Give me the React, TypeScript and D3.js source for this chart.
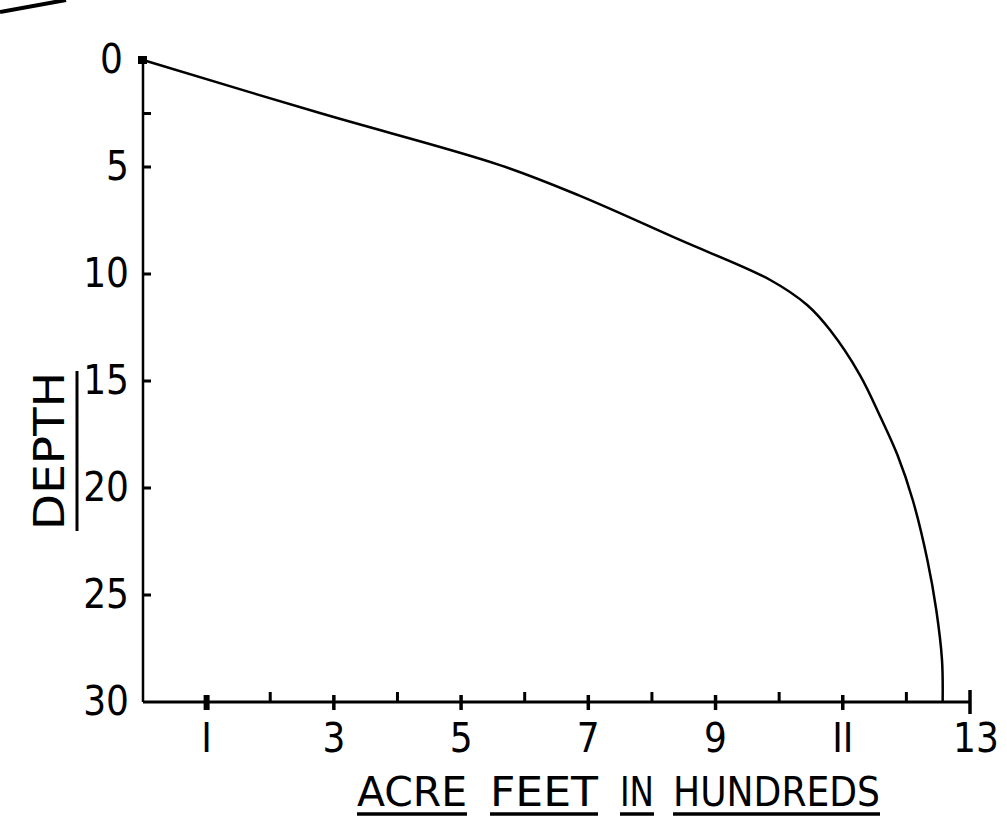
import React, { useEffect, useRef } from 'react';
import * as d3 from 'd3';

// curve: acre feet (hundreds) vs depth
const acreFeet = [0, 2.78, 5.61, 6.87, 8.44, 9.86, 10.44, 10.8, 11.27, 11.6, 11.86, 12.1, 12.33, 12.47, 12.56, 12.57];
const depth = [0, 2.48, 4.91, 6.35, 8.41, 10.28, 11.45, 12.62, 14.72, 16.73, 18.46, 20.56, 23.36, 25.7, 28.04, 30];

const xLabelTicks = [1, 3, 5, 7, 9, 11, 13];
const xMinorTicks = [2, 4, 6, 8, 10, 12];
const yLabelTicks = [0, 5, 10, 15, 20, 25, 30];
const yMinorTicks = [2.5];
const xTitleWords = ['ACRE', 'FEET', 'IN', 'HUNDREDS'];
const yTitle = 'DEPTH';

const FONT = "'Liberation Sans Narrow', 'DejaVu Sans Condensed', 'Liberation Sans', sans-serif";

const App = () => {
  const svgRef = useRef<SVGSVGElement>(null);

  useEffect(() => {
    const width = 1007;
    const height = 821;

    d3.select(svgRef.current).selectAll('*').remove();

    const svg = d3.select(svgRef.current)
      .attr('width', width)
      .attr('height', height)
      .style('background', '#fff');

    const x = d3.scaleLinear().domain([0, 13]).range([143, 970]);
    const y = d3.scaleLinear().domain([0, 30]).range([60, 702]);

    // stray pen stroke in the top-left corner of the scan
    svg.append('path')
      .attr('d', 'M0,12 L66,0')
      .attr('stroke', '#000')
      .attr('stroke-width', 4);

    // y axis
    svg.append('line')
      .attr('x1', x(0)).attr('x2', x(0))
      .attr('y1', y(0) - 2).attr('y2', y(30))
      .attr('stroke', '#000')
      .attr('stroke-width', 2.5);

    svg.append('rect')
      .attr('x', x(0) - 5).attr('y', y(0) - 4)
      .attr('width', 9).attr('height', 8)
      .attr('fill', '#000');

    svg.selectAll('.ytick')
      .data([...yLabelTicks.slice(1, -1), ...yMinorTicks])
      .join('line')
      .attr('class', 'ytick')
      .attr('x1', x(0)).attr('x2', x(0) + 8)
      .attr('y1', d => y(d)).attr('y2', d => y(d))
      .attr('stroke', '#000')
      .attr('stroke-width', 3);

    svg.selectAll('.ylabel')
      .data(yLabelTicks)
      .join('text')
      .attr('class', 'ylabel')
      .attr('x', d => (d === 0 ? x(0) - 20 : x(0) - 14))
      .attr('y', d => y(d) + 2)
      .attr('text-anchor', 'end')
      .attr('dominant-baseline', 'middle')
      .style('font-family', FONT)
      .style('font-size', '40px')
      .text(d => d);

    // x axis
    svg.append('line')
      .attr('x1', x(0)).attr('x2', x(13))
      .attr('y1', y(30)).attr('y2', y(30))
      .attr('stroke', '#000')
      .attr('stroke-width', 3);

    svg.selectAll('.xtick')
      .data(xLabelTicks)
      .join('line')
      .attr('class', 'xtick')
      .attr('x1', d => x(d)).attr('x2', d => x(d))
      .attr('y1', d => y(30) - (d === 13 ? 12 : 7))
      .attr('y2', d => y(30) + (d === 13 ? 12 : 8))
      .attr('stroke', '#000')
      .attr('stroke-width', d => (d === 1 ? 6 : 3.5));

    svg.selectAll('.xminor')
      .data(xMinorTicks)
      .join('line')
      .attr('class', 'xminor')
      .attr('x1', d => x(d)).attr('x2', d => x(d))
      .attr('y1', y(30) - 10).attr('y2', y(30))
      .attr('stroke', '#000')
      .attr('stroke-width', 3);

    svg.selectAll('.xlabel')
      .data(xLabelTicks)
      .join('text')
      .attr('class', 'xlabel')
      .attr('x', d => x(d) + (d === 13 ? 6 : 0))
      .attr('y', 752)
      .attr('text-anchor', 'middle')
      .style('font-family', FONT)
      .style('font-size', '40px')
      .text(d => (d === 1 || d === 11 ? String(d).replace(/1/g, 'I') : d));

    // x title, every word underlined on its own
    const wordBoxes = [[357, 110], [490, 108], [620, 34], [673, 207]];
    const words = svg.selectAll('.xword')
      .data(xTitleWords)
      .join('g')
      .attr('class', 'xword');

    words.append('text')
      .attr('x', (d, i) => wordBoxes[i][0])
      .attr('y', 806)
      .attr('textLength', (d, i) => wordBoxes[i][1])
      .attr('lengthAdjust', 'spacingAndGlyphs')
      .style('font-family', FONT)
      .style('font-size', '40px')
      .text(d => d);

    words.append('line')
      .attr('x1', (d, i) => wordBoxes[i][0])
      .attr('x2', (d, i) => wordBoxes[i][0] + wordBoxes[i][1])
      .attr('y1', 814).attr('y2', 814)
      .attr('stroke', '#000')
      .attr('stroke-width', 3.5);

    // y title, rotated and underlined
    const yt = svg.append('g')
      .attr('transform', 'translate(64,451) rotate(-90)');

    yt.append('text')
      .attr('x', 0)
      .attr('y', 0)
      .attr('text-anchor', 'middle')
      .attr('textLength', 158)
      .attr('lengthAdjust', 'spacingAndGlyphs')
      .style('font-family', FONT)
      .style('font-size', '42px')
      .text(yTitle);

    yt.append('line')
      .attr('x1', -80).attr('x2', 80)
      .attr('y1', 13).attr('y2', 13)
      .attr('stroke', '#000')
      .attr('stroke-width', 3);

    // the curve
    const line = d3.line<number>()
      .x((d, i) => x(acreFeet[i]))
      .y(d => y(d))
      .curve(d3.curveCatmullRom.alpha(0.5));

    svg.append('path')
      .datum(depth)
      .attr('d', line)
      .attr('fill', 'none')
      .attr('stroke', '#000')
      .attr('stroke-width', 2.5);
  }, []);

  return (
    <div style={{ position: 'fixed', top: 0, left: 0 }}>
      <svg ref={svgRef}></svg>
    </div>
  );
};

export default App;
